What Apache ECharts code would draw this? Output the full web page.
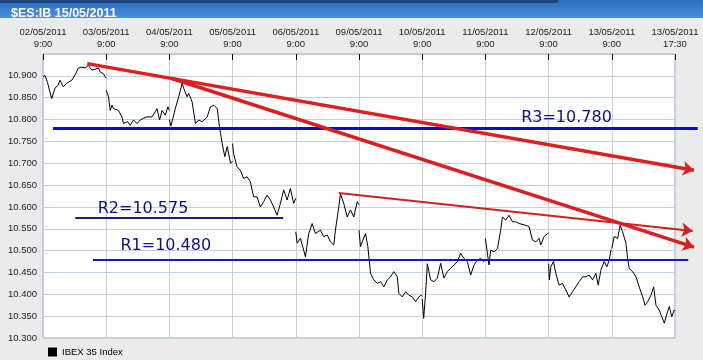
<!DOCTYPE html>
<html><head><meta charset="utf-8">
<script src="https://cdn.jsdelivr.net/npm/echarts@6/dist/echarts.min.js"></script>
<style>html,body{margin:0;padding:0;background:#ebebeb}#c{width:703px;height:360px}</style>
</head><body><div id="c"></div>
<script>
// x axis: trading sessions (0 = 02/05/2011 9:00 ... 10 = 13/05/2011 17:30)
const tickLabels = ['02/05/2011\n9:00','03/05/2011\n9:00','04/05/2011\n9:00','05/05/2011\n9:00','06/05/2011\n9:00','09/05/2011\n9:00','10/05/2011\n9:00','11/05/2011\n9:00','12/05/2011\n9:00','13/05/2011\n9:00','13/05/2011\n17:30'];
const seriesName = 'IBEX 35 Index';
const titleText = '$ES:IB 15/05/2011';

// intraday prices per session: [hour of day, value]
const day0 = [[9.0,10.897],[9.27,10.901],[9.6,10.885],[10.17,10.848],[10.62,10.872],[11.0,10.878],[11.29,10.890],[11.73,10.875],[12.19,10.883],[12.87,10.890],[13.31,10.902],[13.76,10.918],[14.21,10.920],[14.66,10.918],[15.10,10.924],[15.56,10.913],[16.0,10.915],[16.45,10.918],[16.68,10.909],[17.12,10.905],[17.35,10.898],[17.5,10.895]];
const day1 = [[9.0,10.867],[9.31,10.852],[9.54,10.821],[9.77,10.833],[9.98,10.825],[10.21,10.829],[10.66,10.821],[11.11,10.806],[11.33,10.791],[11.56,10.787],[11.87,10.795],[12.23,10.787],[12.68,10.799],[13.14,10.791],[13.58,10.799],[14.03,10.803],[14.48,10.806],[15.16,10.806],[15.60,10.818],[15.83,10.825],[16.18,10.799],[16.51,10.821],[16.95,10.810],[17.30,10.829],[17.5,10.821]];
const day2 = [[9.0,10.800],[9.2,10.785],[9.81,10.826],[10.25,10.852],[10.71,10.883],[10.93,10.871],[11.38,10.852],[11.60,10.860],[12.06,10.840],[12.50,10.791],[12.95,10.799],[13.40,10.795],[14.08,10.806],[14.52,10.829],[14.97,10.833],[15.43,10.825],[15.74,10.783],[16.10,10.745],[16.45,10.715],[16.78,10.738],[17.22,10.700],[17.5,10.705]];
const day3 = [[9.0,10.745],[9.13,10.722],[9.59,10.692],[10.04,10.684],[10.48,10.665],[10.94,10.669],[11.38,10.658],[11.83,10.623],[12.29,10.623],[12.73,10.600],[13.18,10.612],[13.63,10.627],[14.08,10.616],[14.52,10.600],[14.98,10.581],[15.43,10.608],[15.87,10.639],[16.33,10.616],[16.77,10.642],[17.22,10.608],[17.5,10.620]];
const day4 = [[9.0,10.543],[9.18,10.517],[9.62,10.528],[10.06,10.501],[10.29,10.486],[10.74,10.539],[11.20,10.562],[11.64,10.539],[12.31,10.547],[12.76,10.532],[13.22,10.536],[13.66,10.520],[14.11,10.513],[14.33,10.547],[14.78,10.600],[15.01,10.630],[15.45,10.608],[15.91,10.577],[16.35,10.593],[16.80,10.577],[17.26,10.612],[17.5,10.605]];
const day5 = [[9.0,10.547],[9.20,10.509],[9.43,10.520],[9.88,10.539],[10.19,10.509],[10.55,10.448],[10.99,10.433],[11.45,10.425],[11.90,10.429],[12.34,10.417],[12.80,10.433],[13.24,10.440],[13.69,10.452],[14.15,10.440],[14.36,10.402],[14.82,10.394],[15.26,10.406],[15.71,10.398],[16.17,10.394],[16.61,10.383],[17.06,10.394],[17.35,10.398],[17.5,10.395]];
const day6 = [[9.0,10.390],[9.2,10.345],[9.45,10.400],[9.69,10.470],[9.90,10.471],[10.13,10.433],[10.58,10.429],[11.03,10.437],[11.48,10.471],[11.92,10.437],[12.38,10.452],[12.82,10.459],[13.27,10.467],[13.73,10.475],[14.17,10.494],[14.62,10.482],[15.07,10.475],[15.52,10.444],[15.96,10.467],[16.42,10.478],[16.86,10.482],[17.31,10.475],[17.5,10.480]];
const day7 = [[9.0,10.528],[9.48,10.467],[9.71,10.501],[10.16,10.497],[10.62,10.505],[11.06,10.547],[11.29,10.577],[11.73,10.570],[12.18,10.581],[12.64,10.566],[13.08,10.566],[13.53,10.562],[14.20,10.559],[14.87,10.555],[15.33,10.524],[15.78,10.520],[16.22,10.528],[16.45,10.513],[16.89,10.532],[17.35,10.539],[17.5,10.540]];
const day8 = [[9.0,10.470],[9.1,10.433],[9.30,10.463],[9.66,10.475],[9.97,10.448],[10.41,10.421],[10.87,10.425],[11.32,10.410],[11.76,10.394],[12.22,10.406],[12.66,10.417],[13.11,10.429],[13.57,10.440],[14.01,10.440],[14.46,10.444],[14.92,10.433],[15.36,10.448],[15.67,10.421],[16.03,10.455],[16.48,10.475],[16.84,10.463],[17.15,10.478],[17.38,10.501],[17.5,10.500]];
const day9 = [[9.0,10.505],[9.32,10.532],[9.78,10.528],[10.13,10.558],[10.45,10.543],[10.90,10.517],[11.13,10.482],[11.34,10.459],[11.80,10.452],[12.25,10.440],[12.69,10.417],[13.15,10.394],[13.46,10.375],[13.82,10.383],[14.27,10.398],[14.63,10.417],[14.94,10.375],[15.38,10.364],[15.71,10.349],[16.06,10.334],[16.42,10.356],[16.73,10.372],[17.06,10.349],[17.40,10.364],[17.5,10.362]];
const sessions = [day0,day1,day2,day3,day4,day5,day6,day7,day8,day9];

// hand-drawn annotations: [session position, value]
const trendUpper = [[0.70,10.928],[10.30,10.684]];
const trendLower = [[2.04,10.894],[10.30,10.508]];
const trendMinor = [[4.68,10.632],[10.28,10.545]];
const levelR3 = [[0.16,10.780],[10.36,10.780]];
const levelR2 = [[0.51,10.575],[3.80,10.575]];
const levelR1 = [[0.79,10.480],[10.21,10.480]];
const levelTexts = ['R3=10.780','R2=10.575','R1=10.480'];
const levelTextAnchors = [[7.55,10.805],[0.85,10.596],[1.21,10.511]];

const priceData = [];
sessions.forEach((d, i) => {
  d.forEach(([h, v]) => priceData.push([i + (h - 9) / 8.5, v]));
  if (i < sessions.length - 1) priceData.push([i + 1, '-']);
});

const chart = echarts.init(document.getElementById('c'), null, {renderer: 'canvas'});
const lbl = {fontFamily: 'Liberation Sans, Arial, sans-serif', fontSize: 9.5, color: '#222'};
function seg(coords, color, width, arrow) {
  return {type: 'lines', coordinateSystem: 'cartesian2d', clip: false, silent: true, z: 5,
    symbol: arrow ? ['none', 'arrow'] : ['none', 'none'], symbolSize: 11,
    lineStyle: {color: color, width: width, opacity: 1}, data: [{coords: coords}]};
}
chart.setOption({
  backgroundColor: '#ebebeb',
  animation: false,
  title: {text: titleText, left: 6, top: 2,
    textStyle: {color: '#fff', fontWeight: 'bold', fontSize: 12.5, fontFamily: 'Liberation Sans, Arial, sans-serif'}},
  graphic: [
    {type: 'rect', shape: {x: 0, y: 0, width: 703, height: 18}, z: -1,
      style: {fill: new echarts.graphic.LinearGradient(0, 0, 0, 1, [{offset: 0, color: '#2a6cc0'}, {offset: 1, color: '#4a90dc'}])}},
    {type: 'rect', shape: {x: 0, y: 0, width: 558, height: 3}, z: -1, style: {fill: '#1d4478'}}
  ],
  legend: {left: 43, top: 342, data: [seriesName], icon: 'rect', itemWidth: 9, itemHeight: 9,
    textStyle: Object.assign({}, lbl, {color: '#000'}), selectedMode: false},
  grid: {left: 43, right: 28, top: 54, bottom: 22, show: true, backgroundColor: '#ffffff', borderColor: '#9aa8b8', borderWidth: 1},
  xAxis: {type: 'value', position: 'top', min: 0, max: 10, interval: 1,
    axisLine: {show: false},
    axisTick: {show: true, inside: true, length: 6, lineStyle: {color: '#000'}},
    axisLabel: Object.assign({margin: 4, lineHeight: 12, formatter: v => tickLabels[Math.round(v)]}, lbl),
    splitLine: {show: true, lineStyle: {color: '#c2d1e0', width: 1}}},
  yAxis: {type: 'value', min: 10.3, max: 10.95, interval: 0.05,
    axisLine: {show: false}, axisTick: {show: false},
    axisLabel: Object.assign({margin: 6, showMaxLabel: false, formatter: v => v.toFixed(3)}, lbl),
    splitLine: {show: true, lineStyle: {color: '#c2d1e0', width: 1}}},
  series: [
    {name: seriesName, type: 'line', data: priceData, showSymbol: false, connectNulls: false,
      lineStyle: {color: '#000', width: 1}, itemStyle: {color: '#000'}, z: 3},
    seg(levelR3, '#0a0ad0', 3, false),
    seg(levelR2, '#1c1c8c', 2, false),
    seg(levelR1, '#1a1ab8', 2, false),
    seg(trendUpper, '#e01e1e', 3.5, true),
    seg(trendLower, '#dc1e1e', 3.5, true),
    seg(trendMinor, '#d02020', 2, true),
    {type: 'scatter', symbol: 'circle', symbolSize: 2, silent: true, z: 6, clip: false,
      itemStyle: {color: 'rgba(0,0,0,0)'},
      data: levelTextAnchors.map((p, i) => ({value: p, label: {show: true, formatter: levelTexts[i], color: '#101080', opacity: 1}})),
      label: {show: true, position: 'right', distance: 0, color: '#101080', fontSize: 16, fontFamily: 'DejaVu Sans, sans-serif'}}
  ]
});
</script></body></html>
